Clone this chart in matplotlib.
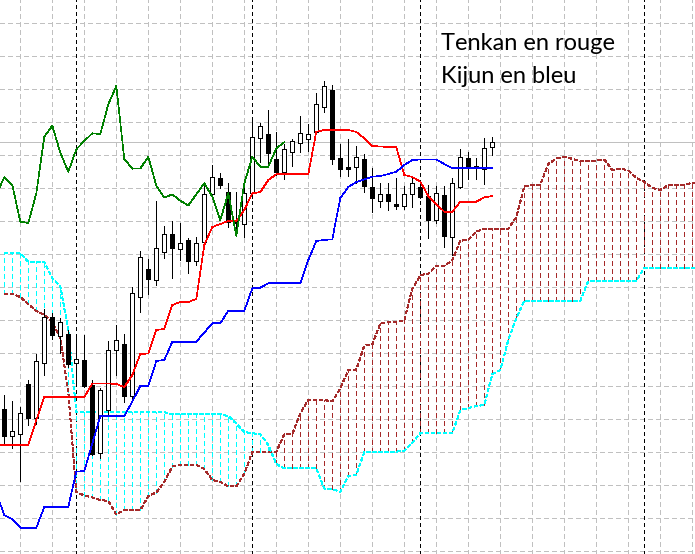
import numpy as np
import matplotlib
matplotlib.use("Agg")
import matplotlib.pyplot as plt
from matplotlib.ticker import MultipleLocator

# candles, bars 0..61 (chart price units)
opens = [145, 118, 119.7, 170, 135.7, 190.7, 237, 217.7, 220, 190.7, 194, 169, 100.7, 143.7,
         203.7, 210, 158.3, 257.3, 285, 274, 302.3, 319.7, 304.7, 314, 293, 311.7, 359.7, 375.7,
         362.3, 333.3, 329.7, 360.7, 415.7, 420, 395, 382.3, 401.7, 410.7, 415.3, 421.7, 447.3,
         464, 395.7, 387, 386.7, 395, 366.7, 353, 359.7, 350, 348.3, 359.7, 366.7, 358, 334, 359,
         316.7, 367.3, 395.7, 388, 384.7, 406.7]
highs = [159, 153, 147.3, 174, 200.3, 245, 241.5, 236.5, 224, 219.3, 219, 174, 166.5, 213, 229,
         220, 267.3, 303.3, 295, 353.3, 328, 333.3, 330.7, 315.7, 316.7, 370.7, 389, 381.3, 370.7,
         362.3, 370.7, 434.7, 431.3, 444, 422.3, 410, 415, 438, 430, 461.3, 473, 469, 410, 415,
         408.3, 399.7, 386.3, 370.7, 370.7, 375.7, 368.3, 375.7, 373.3, 369, 368.3, 368, 375.7,
         404.7, 402.3, 395.7, 415.7, 416.7]
lows = [109, 106, 73.3, 129.5, 130.5, 179.5, 214.7, 200.7, 187, 169, 167, 99, 95.7, 139.5, 179.5,
        152.3, 156, 242.3, 260, 269, 295.7, 275.7, 294, 280.7, 289, 307.3, 358, 365.7, 327.3, 319,
        317, 355.7, 392.3, 387.3, 379, 375, 388.3, 402.3, 403.3, 420, 442.3, 389.7, 378.3, 378.3,
        370.7, 362.3, 341.7, 347.3, 344, 345, 344.7, 347.3, 355.7, 315.7, 331.3, 307.3, 298.7,
        366.3, 375, 375, 369.7, 399]
closes = [118, 123, 140.7, 136.3, 193, 237.3, 218.7, 232.3, 190.3, 194.7, 168.3, 100.3, 164, 204,
          214, 158.3, 260.7, 296.7, 274.7, 305.7, 319.7, 305.7, 310.7, 293, 310.7, 359.7, 376.7,
          369, 332.3, 331, 360.7, 417.3, 428.3, 401.3, 382.3, 404.7, 413, 420.7, 420, 449.7, 468,
          395, 385.3, 385.5, 397.3, 368.3, 356.3, 359.7, 353.3, 348.5, 359.7, 370.7, 357.3, 334,
          360.7, 318.3, 370.7, 397.3, 387.3, 387.3, 405.7, 411.7]

# tenkan / kijun, bars -1..61
tenkan = [109, 109, 109, 109, 109, 134, 157, 157, 157, 157, 157, 157, 170.5, 170.5, 170.5, 170,
          167, 179, 200, 200.5, 224, 225, 249, 252, 252, 255, 309, 327, 330, 333, 333, 344, 360.7,
          362, 374, 379.7, 379.7, 379.7, 379.7, 379.7, 422.3, 424, 424, 424, 424, 422, 415.7, 408,
          407.5, 407, 406.7, 379, 377, 372.3, 358, 349.7, 342.3, 342.3, 352.3, 352.3, 352.3,
          356.7, 358]
kijun = [61, 39, 35, 26.3, 26.3, 26.3, 47, 47.3, 47.3, 47.3, 82.3, 83, 110.5, 138, 138, 138, 138,
         152.5, 168, 168.3, 193, 194, 212.3, 212.3, 212.3, 212.3, 221.5, 230.7, 230.7, 243.3, 243.3,
         243.3, 265.7, 266.3, 270.7, 270.7, 270.7, 270.7, 270.7, 294, 313, 314, 314.7, 356, 367,
         372, 374.7, 377.3, 378, 380, 382.3, 389, 394, 394.5, 394.5, 394.5, 390, 385.7, 385.7,
         385.7, 385.7, 385.7, 385.7]

# senkou A as seen on bars 0..24 (before the visible tenkan/kijun)
span_a_early = [260, 260, 257, 250, 243, 239, 232, 216, 162, 62, 58.5, 56.5, 54, 53, 39.5, 44, 44,
                44, 58, 61.5, 72, 87.5, 89, 89, 89]
# senkou B, bars 0..87
span_b = [300.7, 300.7, 300.7, 292.3, 292.3, 292, 275.7, 268, 224, 141.7,
          141.7, 141.7, 141.7, 141.7, 141.7, 141.7, 141.7, 141.7, 141.7, 141.7, 141.7,
          139.7, 139.7, 139.7, 139.7, 139.7, 139.7, 139.7,
          138, 130.5, 122, 120.7, 120, 109, 90,
          85.7, 85.7, 85.7, 85.7, 85.7,
          65.5, 65, 62, 78, 79, 102,
          102.3, 102.3, 102.3, 102.3, 103.3, 111.3,
          120.7, 120.7, 120.7, 120.7, 120.7,
          144, 146, 148, 149, 180, 184, 214, 236, 253,
          253.3, 253.3, 253.3, 253.3, 253.3, 253.3, 253.3,
          273, 273.3, 273.3, 273.3, 273.3, 273.3, 273.3,
          286, 286.3, 286.3, 286.3, 286.3, 286.3, 286.3, 286.3]

separators = [9, 31, 52, 80]
shift = 26

opens, highs, lows, closes = map(np.array, (opens, highs, lows, closes))
bars = np.arange(len(closes))
line_bars = np.arange(-1, len(closes))
tenkan = np.array(tenkan)
kijun = np.array(kijun)
span_a = np.concatenate([span_a_early, (tenkan + kijun) / 2])
span_b = np.array(span_b)
cloud_x = np.arange(len(span_a))

lw = 0.45                # thin 1px lines (no antialiasing)
lw_px = lw * 100 / 72


def dash(on, off):
    # dash lengths given in pixels
    return (0, (on / lw_px, off / lw_px))


fig = plt.figure(figsize=(6.95, 5.54), dpi=100)
ax = fig.add_axes([0, 0, 1, 1])
ax.set_xlim(-4.3 / 8, (695 - 4.3) / 8)
ax.set_ylim(0, 554)
for s in ax.spines.values():
    s.set_visible(False)

ax.xaxis.set_major_locator(MultipleLocator(4, offset=2))
ax.yaxis.set_major_locator(MultipleLocator(33, offset=3.3))
ax.tick_params(length=0, labelleft=False, labelbottom=False)
ax.grid(True, color='#c0c0c0', linestyle=dash(4, 3), linewidth=lw, zorder=0, antialiased=False)
ax.set_axisbelow(True)

for b in separators:
    ax.axvline(b, color='black', linestyle=dash(3, 3), linewidth=lw, zorder=1, antialiased=False)
ax.axhline(closes[-1], color='#c0c0c0', linewidth=lw, zorder=1, antialiased=False)

# kumo hatching
top_b = span_b > span_a
hatch_colors = np.where(top_b, '#00ffff', '#a52a2a')
ax.vlines(cloud_x, np.minimum(span_a, span_b), np.maximum(span_a, span_b),
          colors=hatch_colors, linestyles=dash(4, 3), linewidth=lw, zorder=1, antialiased=False)
ax.plot(cloud_x, span_a, color='#a52a2a', linestyle=dash(3, 2), linewidth=lw, zorder=2,
        antialiased=False)
ax.plot(cloud_x, span_b, color='#00ffff', linestyle=dash(3, 2), linewidth=lw, zorder=2,
        antialiased=False)

# candles
ax.vlines(bars, lows, highs, color='black', linewidth=lw, zorder=3, antialiased=False)
fill = np.where(closes >= opens, 'white', 'black')
ax.bar(bars, closes - opens, bottom=opens, width=0.5, color=fill, edgecolor='black',
       linewidth=lw, zorder=4, antialiased=False)

# lines
ax.plot(line_bars, tenkan, color='#ff0000', linewidth=lw, zorder=5, antialiased=False)
ax.plot(line_bars, kijun, color='#0000ff', linewidth=lw, zorder=5, antialiased=False)
ax.plot(bars - shift, closes, color='#008000', linewidth=lw, zorder=5, antialiased=False)

fig.text(441 / 695, 1 - 50 / 554, 'Tenkan en rouge', fontsize=17, family='Lato',
         va='baseline', ha='left', color='black')
fig.text(441 / 695, 1 - 83.3 / 554, 'Kijun en bleu', fontsize=17, family='Lato',
         va='baseline', ha='left', color='black')

fig.savefig('out.png', dpi=100)
